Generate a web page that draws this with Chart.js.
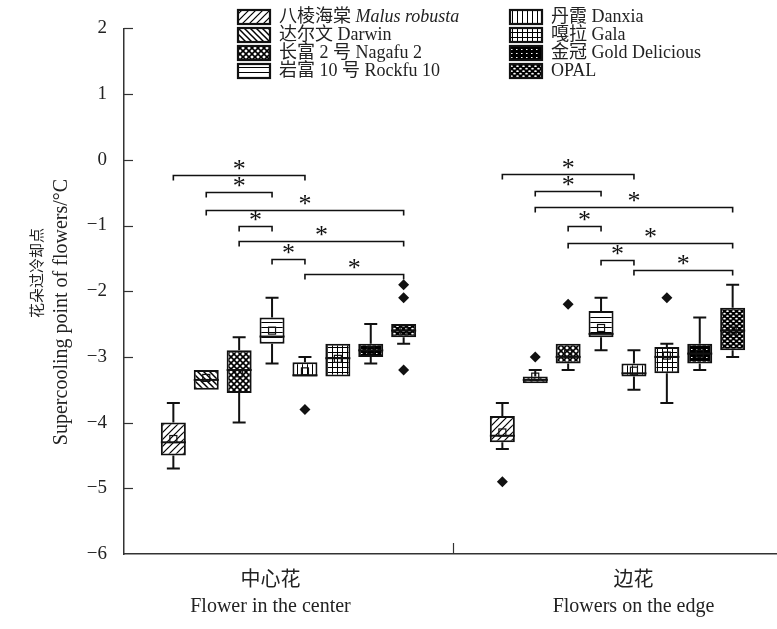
<!DOCTYPE html>
<html>
<head>
<meta charset="utf-8">
<script src="https://cdn.jsdelivr.net/npm/chart.js@4.4.3/dist/chart.umd.min.js"></script>
<style>
  html, body { margin: 0; padding: 0; background: #fff; overflow: hidden; }
  #wrap { width: 790px; height: 629px; }
</style>
</head>
<body>
<div id="wrap"><canvas id="spChart" width="790" height="629"></canvas></div>
<script>
const groupsCn = ['中心花', '边花'];
const groupsEn = ['Flower in the center', 'Flowers on the edge'];
const cultivarsCn = ['八棱海棠', '达尔文', '长富 2 号', '岩富 10 号', '丹霞', '嘎拉', '金冠', ''];
const cultivarsEn = ['Malus robusta', 'Darwin', 'Nagafu 2', 'Rockfu 10', 'Danxia', 'Gala', 'Gold Delicious', 'OPAL'];
const hatchKinds = ['fwd', 'back', 'cross', 'horiz', 'vert', 'grid', 'dots', 'ovals'];

// box statistics (°C), one entry per cultivar
const centerLow  = [-4.7, -3.5, -4.0, -3.1, -3.3, -3.3, -3.1, -2.8];
const centerQ1   = [-4.5, -3.5, -3.55, -2.8, -3.3, -3.3, -3.0, -2.7];
const centerMed  = [-4.3, -3.35, -3.2, -2.69, -3.28, -3.02, -2.9, -2.6];
const centerQ3   = [-4.0, -3.2, -2.9, -2.4, -3.08, -2.8, -2.8, -2.5];
const centerHigh = [-3.7, -3.2, -2.7, -2.1, -3.0, -2.8, -2.5, -2.5];
const centerMean = [-4.25, -3.32, -3.25, -2.6, -3.22, -3.03, -2.9, -2.6];
const centerOut  = [[], [], [], [], [-3.8], [], [], [-1.9, -2.1, -3.2]];

const edgeLow  = [-4.4, -3.4, -3.2, -2.9, -3.5, -3.7, -3.2, -3.0];
const edgeQ1   = [-4.3, -3.4, -3.1, -2.7, -3.3, -3.25, -3.1, -2.9];
const edgeMed  = [-4.2, -3.35, -3.0, -2.65, -3.25, -3.0, -2.95, -2.6];
const edgeQ3   = [-3.9, -3.3, -2.8, -2.3, -3.1, -2.85, -2.8, -2.25];
const edgeHigh = [-3.7, -3.2, -2.8, -2.1, -2.9, -2.8, -2.4, -1.9];
const edgeMean = [-4.15, -3.3, -2.95, -2.56, -3.21, -2.98, -2.95, -2.6];
const edgeOut  = [[-4.9], [-3.0], [-2.2], [], [], [-2.1], [], []];

// significant pairs (cultivar indices) and bracket heights per group
const sigPairs  = [[0, 4], [1, 3], [1, 7], [2, 3], [2, 7], [3, 4], [4, 7]];
const sigCenter = [-0.23, -0.49, -0.76, -1.0, -1.23, -1.51, -1.74];
const sigEdge   = [-0.21, -0.47, -0.72, -1.0, -1.26, -1.53, -1.68];

const yMin = -6, yMax = 2;

const stats = [
  { low: centerLow, q1: centerQ1, med: centerMed, q3: centerQ3, high: centerHigh, mean: centerMean, out: centerOut, sig: sigCenter },
  { low: edgeLow, q1: edgeQ1, med: edgeMed, q3: edgeQ3, high: edgeHigh, mean: edgeMean, out: edgeOut, sig: sigEdge }
];

const FONT = '"Liberation Serif", "Noto Sans CJK SC", serif';
const INK = '#111';

function makeHatch(kind) {
  const c = document.createElement('canvas');
  const g = c.getContext('2d');
  let w = 6, h = 6;
  if (kind === 'fwd') { w = h = 7; }
  if (kind === 'horiz' || kind === 'vert' || kind === 'grid') { w = h = 5; }
  if (kind === 'dots') { w = 5; h = 4; }
  if (kind === 'ovals') { w = 6; h = 5; }
  c.width = w; c.height = h;
  const dark = kind === 'dots' || kind === 'ovals';
  g.fillStyle = dark ? '#000' : '#fff';
  g.fillRect(0, 0, w, h);
  g.strokeStyle = '#000';
  g.fillStyle = '#fff';
  const seg = (x1, y1, x2, y2) => { g.beginPath(); g.moveTo(x1, y1); g.lineTo(x2, y2); g.stroke(); };
  switch (kind) {
    case 'fwd':
      g.lineWidth = 1.2;
      seg(-1, h + 1, w + 1, -1); seg(-1, 1, 1, -1); seg(w - 1, h + 1, w + 1, h - 1);
      break;
    case 'back':
      g.lineWidth = 1.5;
      seg(-1, -1, w + 1, h + 1); seg(w - 1, -1, w + 1, 1); seg(-1, h - 1, 1, h + 1);
      break;
    case 'cross':
      g.lineWidth = 1.6;
      seg(-1, -1, w + 1, h + 1); seg(w - 1, -1, w + 1, 1); seg(-1, h - 1, 1, h + 1);
      seg(-1, h + 1, w + 1, -1); seg(-1, 1, 1, -1); seg(w - 1, h + 1, w + 1, h - 1);
      break;
    case 'horiz':
      g.lineWidth = 1; seg(0, 2.5, w, 2.5);
      break;
    case 'vert':
      g.lineWidth = 1; seg(2.5, 0, 2.5, h);
      break;
    case 'grid':
      g.lineWidth = 1; seg(0, 2.5, w, 2.5); seg(2.5, 0, 2.5, h);
      break;
    case 'dots':
      g.fillRect(1, 1, 1.5, 1);
      break;
    case 'ovals':
      g.beginPath(); g.ellipse(1.5, 1.2, 1.3, 0.9, 0, 0, Math.PI * 2); g.fill();
      g.beginPath(); g.ellipse(4.5, 3.7, 1.3, 0.9, 0, 0, Math.PI * 2); g.fill();
      break;
  }
  return g.createPattern(c, 'repeat');
}

const patterns = hatchKinds.map(makeHatch);

const datasets = cultivarsEn.map((name, i) => ({
  label: name,
  data: stats.map(s => [s.q1[i], s.q3[i]]),
  backgroundColor: patterns[i],
  borderColor: INK,
  borderWidth: 2,
  borderSkipped: false,
  categoryPercentage: 0.8,
  barPercentage: 0.76
}));

const toMinus = v => String(v).replace('-', '\u2212');

const boxParts = {
  id: 'boxParts',
  afterDatasetsDraw(chart) {
    const ctx = chart.ctx;
    const ys = chart.scales.y;
    ctx.save();
    ctx.strokeStyle = INK;
    ctx.fillStyle = INK;
    stats.forEach((s, g) => {
      for (let i = 0; i < cultivarsEn.length; i++) {
        const bar = chart.getDatasetMeta(i).data[g];
        const x = bar.x, half = bar.width / 2, cap = 6.5;
        ctx.lineWidth = 2;
        const whisker = (from, to) => {
          ctx.beginPath();
          ctx.moveTo(x, ys.getPixelForValue(from));
          ctx.lineTo(x, ys.getPixelForValue(to));
          ctx.moveTo(x - cap, ys.getPixelForValue(to));
          ctx.lineTo(x + cap, ys.getPixelForValue(to));
          ctx.stroke();
        };
        if (s.high[i] > s.q3[i]) whisker(s.q3[i], s.high[i]);
        if (s.low[i] < s.q1[i]) whisker(s.q1[i], s.low[i]);
        // median
        const my = ys.getPixelForValue(s.med[i]);
        ctx.beginPath();
        ctx.moveTo(x - half, my);
        ctx.lineTo(x + half, my);
        ctx.stroke();
        // mean marker
        ctx.lineWidth = 1.2;
        const ay = ys.getPixelForValue(s.mean[i]);
        ctx.strokeRect(x - 3.5, ay - 3.5, 7, 7);
        // outliers
        s.out[i].forEach(v => {
          const oy = ys.getPixelForValue(v), r = 5.5;
          ctx.beginPath();
          ctx.moveTo(x, oy - r); ctx.lineTo(x + r, oy); ctx.lineTo(x, oy + r); ctx.lineTo(x - r, oy);
          ctx.closePath();
          ctx.fill();
        });
      }
      // significance brackets
      ctx.lineWidth = 1.6;
      ctx.font = '26px ' + FONT;
      ctx.textAlign = 'center';
      ctx.textBaseline = 'alphabetic';
      sigPairs.forEach(([a, b], k) => {
        const x1 = chart.getDatasetMeta(a).data[g].x;
        const x2 = chart.getDatasetMeta(b).data[g].x;
        const by = Math.round(ys.getPixelForValue(s.sig[k])) + 0.5;
        ctx.beginPath();
        ctx.moveTo(x1, by + 5); ctx.lineTo(x1, by); ctx.lineTo(x2, by); ctx.lineTo(x2, by + 5);
        ctx.stroke();
        ctx.fillText('*', (x1 + x2) / 2, by + 1);
      });
    });
    ctx.restore();
  },
  afterDraw(chart) {
    const ctx = chart.ctx;
    const { left, bottom } = chart.chartArea;
    const xs = chart.scales.x, ys = chart.scales.y;
    ctx.save();
    ctx.strokeStyle = '#333';
    ctx.lineWidth = 1.2;
    // inward tick marks
    ys.ticks.forEach(t => {
      if (t.value === yMin) return;
      const ty = Math.round(ys.getPixelForValue(t.value)) + 0.5;
      ctx.beginPath(); ctx.moveTo(left, ty); ctx.lineTo(left + 9, ty); ctx.stroke();
    });
    const mid = Math.round((xs.getPixelForValue(0) + xs.getPixelForValue(1)) / 2) + 0.5;
    ctx.beginPath(); ctx.moveTo(mid, bottom); ctx.lineTo(mid, bottom - 11); ctx.stroke();

    ctx.fillStyle = '#222';
    ctx.textAlign = 'center';
    ctx.textBaseline = 'middle';
    // category labels
    const labelShift = [-18, 16];
    groupsCn.forEach((cn, i) => {
      const cx = xs.getPixelForValue(i) + labelShift[i];
      ctx.font = '20px ' + FONT;
      ctx.fillText(cn, cx, 581);
      ctx.fillText(groupsEn[i], cx, 607);
    });
    // y axis title
    ctx.save();
    ctx.translate(38, 273);
    ctx.rotate(-Math.PI / 2);
    ctx.font = '15px ' + FONT;
    ctx.fillText('花朵过冷却点', 0, 0);
    ctx.restore();
    ctx.save();
    ctx.translate(62, 312);
    ctx.rotate(-Math.PI / 2);
    ctx.font = '20px ' + FONT;
    ctx.fillText('Supercooling point of flowers/°C', 0, 0);
    ctx.restore();

    // legend, two columns of four
    ctx.textAlign = 'left';
    cultivarsEn.forEach((en, i) => {
      const col = Math.floor(i / 4), row = i % 4;
      const sx = col ? 510 : 238, cy = 17 + row * 18;
      ctx.fillStyle = patterns[i];
      ctx.fillRect(sx, cy - 7, 32, 14);
      ctx.strokeStyle = INK;
      ctx.lineWidth = 2.2;
      ctx.strokeRect(sx, cy - 7, 32, 14);
      ctx.fillStyle = '#222';
      let tx = sx + 41;
      ctx.font = '18px ' + FONT;
      if (cultivarsCn[i]) {
        const cn = cultivarsCn[i] + ' ';
        ctx.fillText(cn, tx, cy);
        tx += ctx.measureText(cn).width;
      }
      ctx.font = (i === 0 ? 'italic ' : '') + '18px ' + FONT;
      ctx.fillText(en, tx, cy);
    });
    ctx.restore();
  }
};

new Chart(document.getElementById('spChart'), {
  type: 'bar',
  data: { labels: groupsEn, datasets },
  options: {
    responsive: false,
    animation: false,
    layout: { padding: { top: 24, right: 8, left: 0, bottom: 0 } },
    plugins: { legend: { display: false }, tooltip: { enabled: false } },
    scales: {
      x: {
        grid: { display: false, drawTicks: false },
        border: { display: true, color: '#333', width: 1.5 },
        ticks: { display: false },
        afterFit: s => { s.height = 75; }
      },
      y: {
        min: yMin,
        max: yMax,
        grid: { display: false, drawTicks: false },
        border: { display: true, color: '#333', width: 1.5 },
        ticks: {
          stepSize: 1,
          padding: 17,
          color: '#222',
          font: { family: FONT, size: 19 },
          callback: v => toMinus(v)
        },
        afterFit: s => { s.width = 124; }
      }
    }
  },
  plugins: [boxParts]
});
</script>
</body>
</html>
